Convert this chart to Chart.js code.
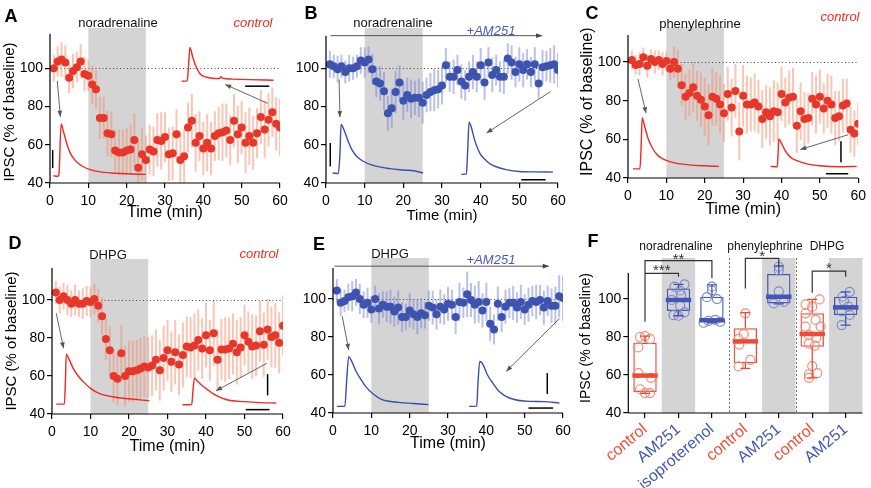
<!DOCTYPE html>
<html><head><meta charset="utf-8">
<script src="https://cdn.jsdelivr.net/npm/chart.js@4.4.1/dist/chart.umd.min.js"></script>
<style>
html,body{margin:0;padding:0;background:#fff;}
#wrap{position:relative;width:871px;height:488px;overflow:hidden;font-family:'Liberation Sans',Arial,sans-serif;background:#fff;}
canvas{position:absolute;}
.t{position:absolute;white-space:nowrap;transform:translate(-50%,-50%);line-height:1;color:#111;}
.L{font-weight:bold;font-size:18px;color:#000;}
.s{font-size:13px;}
.s12{font-size:12px;}
.red{color:#ef2a1c;font-style:italic;}
.blue{color:#4a58c0;font-style:italic;}
</style></head><body><div id="wrap">
<canvas id="cA" width="300" height="222" style="left:0px;top:0px"></canvas>
<canvas id="cB" width="290" height="225" style="left:290px;top:0px"></canvas>
<canvas id="cC" width="296" height="219" style="left:575px;top:0px"></canvas>
<canvas id="cD" width="300" height="226" style="left:0px;top:230px"></canvas>
<canvas id="cE" width="290" height="223" style="left:290px;top:230px"></canvas>
<canvas id="cF" width="296" height="258" style="left:575px;top:230px"></canvas>

<div class="t L" style="left:11px;top:16px">A</div>
<div class="t s" style="left:118px;top:22px">noradrenaline</div>
<div class="t s red" style="left:253px;top:22px">control</div>

<div class="t L" style="left:311px;top:13px">B</div>
<div class="t s" style="left:393px;top:22px">noradrenaline</div>
<div class="t s blue" style="left:491px;top:30px">+AM251</div>

<div class="t L" style="left:592px;top:13px">C</div>
<div class="t s" style="left:700px;top:23px">phenylephrine</div>
<div class="t s red" style="left:840px;top:16px">control</div>

<div class="t L" style="left:15px;top:243px">D</div>
<div class="t s" style="left:108px;top:254px">DHPG</div>
<div class="t s red" style="left:259px;top:253px">control</div>

<div class="t L" style="left:319px;top:244px">E</div>
<div class="t s" style="left:390px;top:253px">DHPG</div>
<div class="t s blue" style="left:491px;top:259px">+AM251</div>

<div class="t L" style="left:593px;top:241px">F</div>
<div class="t s12" style="left:676px;top:246px">noradrenaline</div>
<div class="t s12" style="left:765px;top:246px">phenylephrine</div>
<div class="t s12" style="left:827px;top:246px">DHPG</div>
</div>
<script>
// ---------------- DATA ----------------
const times = [1,2,3,4,5,6,7,8,9,10,11,12,13,14,15,16,17,18,19,20,21,22,23,24,25,26,27,28,29,30,
               31,32,33,34,35,36,37,38,39,40,41,42,43,44,45,46,47,48,49,50,51,52,53,54,55,56,57,58,59,60];
const yTickValues = [40, 60, 80, 100];
const xTickStep = 10;

// Panel A: noradrenaline, control
const aVals = [100,103.5,104.5,103,95,98.5,100.5,103.5,97,96, 91.5,89,74,74,66,65.5,57,56,56,57,
  57.5,62.5,48,55,52, 57.5,56.5,62.5,62,64, 55,55.5,65.5,52,54, 69,72.5,61,64.5,58,
  61,58,64.5,66,66.5, 67.5,62.5,72.5,65.5,69, 61,64.5,61,66,74.5, 68,73,77,71,69];
const aErr = [7,8,9,9,8,9,8,9,9,8, 10,10,11,11,12,12,11,12,12,12, 13,14,15,14,13, 13,13,14,15,13,
  14,14,13,15,14, 13,14,15,13,14, 15,14,13,14,15, 14,13,14,15,14, 16,15,14,13,14, 15,14,13,14,15];
// Panel B: noradrenaline, +AM251
const bVals = [102,101,99.5,101,98,100,100,101,104,103, 104.5,99.5,93,92,88,76.5,79,87.5,92.5,83,
  86,84,84.5,84.5,82, 86,87.5,88.5,89,91, 101.5,95.5,95.5,99,93, 91,95.5,98,95.5,101.5,
  92.5,103,96.5,99,95.5, 95.5,105,103,98,102, 99,102,98,102,92, 100.5,101,101.5,102,99];
const bErr = [7,6,7,6,6,7,6,6,7,8, 7,8,8,9,10,9,10,11,9,10, 9,10,9,10,11, 9,10,11,10,10,
  9,8,9,8,9, 8,8,9,8,9, 9,8,9,8,8, 9,8,9,8,9, 9,8,8,9,8, 9,8,9,10,9];
// Panel C: phenylephrine, control
const cVals = [101,98.5,99,102.5,98,101.5,100,101,99,100.5, 96.5,100,96.5,88,82,84,87,82.5,80.5,77,
  72.5,82,81,78,73.5,83.5,76.5,85,64,82.5, 78,78,79,77,70.5,74,72,74.5,74,83.5,
  79,81.5,82,67,74.5,70.5,71,81,78,82, 76,80,78,71,72,77.5,78.5,65,63,68];
const cErr = [5,5,6,5,6,5,6,5,6,5, 6,8,10,11,12,12,13,13,14,15, 16,15,14,15,15, 14,15,14,15,16,
  15,14,15,14,15, 14,15,16,15,14, 13,14,15,14,15, 14,13,14,15,14, 13,14,15,14,13, 14,13,12,12,11];
// Panel D: DHPG, control
const dVals = [104,100,102,100,98,100,98,98,99.5,99, 100.5,97,91.5,79.5,73.5,60,58.5,72,60,62.5,
  62.5,63,64,65,64.5, 65.5,68.5,63,69.5,73.5, 67.5,72.5,66,71,75.5, 75,76,79,74.5,81.5,
  73.5,82.5,68.5,74,74, 74.5,77,72.5,75,81.5, 78,75.5,76,83.5,76.5, 84.5,80.5,81.5,77.5,86.5];
const dErr = [6,7,7,8,7,8,7,8,8,8, 8,9,10,11,13,14,14,15,16,16, 16,16,16,16,16, 16,16,16,17,16,
  16,17,16,17,16, 16,17,16,16,17, 16,17,16,16,17, 16,16,17,16,16, 16,17,16,16,17, 16,16,17,16,16];
// Panel E: DHPG, +AM251
const eVals = [104.5,98,99,101,101.5,103.5,100,97,98,94.5, 100,95,97,96,96,93.5,95.5,90.5,90.5,94,
  92,90.5,92.5,91.5,96.5, 95.5,92,96,94.5,97.5, 97,90.5,98.5,98,102.5, 99.5,97,98.5,94,98.5,
  87,84,97.5,90.5,96, 98,98,95.5,98.5,94.5, 97,99,98.5,99.5,95.5, 99,96.5,96.5,101.5,100.5];
const eErr = [6,7,6,7,8,7,8,7,8,7, 7,8,7,8,9,8,9,8,7,9, 8,9,8,7,8, 9,8,9,8,9,
  8,9,10,8,12, 9,10,11,9,10, 9,8,9,8,9, 8,9,8,9,8, 9,8,9,8,9, 8,9,10,11,12];

// Example IPSC traces (time, value)
const aTrace1 = [[0.9,43.8],[2.0,43.5],[2.3,44],[2.9,70.8],[3.5,67],[4.3,61],[5.2,56],[6.1,53],[7.3,50.5],[8.7,48.5],[10.5,47],[13,45.8],[16,45.2],[20,44.8],[25,44.5]];
const aTrace2 = [[34.4,93.2],[35.8,93.4],[36.1,100],[36.5,110.8],[37.2,106],[38.3,99.8],[39.2,97],[40,95.8],[41.5,95],[43,94.6],[44.3,94.6],[44.6,95.6],[45,94.8],[47.5,94.3],[52,94],[58.3,93.7]];
const bTrace1 = [[1.7,45.2],[3.2,45],[3.6,55],[3.9,70.6],[4.5,68.5],[5.8,61.4],[6.8,57],[7.9,54],[9.5,51.5],[12.2,49.2],[16.5,47.5],[20,46.8],[23,46.3],[25.1,45.2]];
const bTrace2 = [[35,44.5],[36.3,44.8],[36.6,55],[37,71.8],[37.6,69],[38.5,62],[39.8,55.5],[41,52.5],[42.3,50.2],[44,48.5],[46.6,47],[50,46],[54,45.8],[58.7,45.7]];
const cTrace1 = [[1.3,44.7],[3.1,44.7],[3.4,55],[3.7,71],[4.3,67],[5.3,60],[6.5,55],[7.8,51.6],[9.5,49.5],[12.1,47.8],[16,46.8],[20,46.3],[23.7,46]];
const cTrace2 = [[37.1,46],[38.9,45.8],[39.1,52],[39.3,60.2],[40,58],[41,54],[42.3,50.8],[44,49],[46.6,47.3],[50,46.3],[55,45.8],[59.6,46]];
const dTrace1 = [[1.1,45.2],[3.2,45.2],[3.5,58],[3.7,71.5],[4.4,69],[5.5,64],[6.8,60],[8.1,57.1],[10,53.5],[12.4,50.7],[16.8,48.7],[20,48],[25.3,47]];
const dTrace2 = [[33.9,44.9],[36.3,45],[36.6,52],[37,58.9],[37.7,57.5],[39,55],[40.2,53.1],[42,50.5],[45.4,47.5],[50,46.5],[54,46],[58.2,45.8]];
const eTrace1 = [[1,43.5],[3.1,43.5],[3.5,55],[4.1,69.7],[4.7,68],[6,62],[7.2,58],[8.5,54],[10.5,50],[12.8,47],[17.2,45.6],[21,45],[24.9,44.4]];
const eTrace2 = [[35.5,43.5],[37.5,43.6],[37.8,55],[38.3,67.1],[39,66],[40.3,60],[41.7,55.7],[43.5,51],[46,47.9],[51.3,46.1],[55,46],[59.1,45.2]];

// Panel F: summary box plots
const fCats   = ['control','AM251','isoproterenol','control','AM251','control','AM251'];
const fGroup  = ['control','AM251','AM251','control','AM251','control','AM251'];
const fMin    = [50.3, 91.2, 87.5, 63.5, 97.5, 58.5, 86.3];
const fQ1     = [51.0, 93.7, 88.6, 66.2, 97.7, 74.9, 91.6];
const fMedian = [59.7, 99.5, 88.8, 77.7, 101.2, 81.6, 95.6];
const fQ3     = [77.0, 105.6, 101.2, 84.6, 113.2, 92.5, 101.2];
const fMax    = [80.5, 107.7, 107.4, 92.8, 117.5, 99.8, 103.8];
const fPtCat = [0,0,0,0,0,0,0,0,0, 1,1,1,1,1,1,1,1,1, 2,2,2,2,2,2,2,2, 3,3,3,3,3,3, 4,4,4,4,4,
                5,5,5,5,5,5,5,5,5,5,5,5,5,5,5, 6,6,6,6,6,6,6];
const fPtVal = [80.5,80,79,74.5,61,58.5,52.5,50.5,50.5, 107.7,106.5,104.5,102,99.5,96.5,93,91.5,91.2,
                106.5,104.5,101,100,89,88.5,88,87.5, 92.5,81.5,79,76,68,64.5, 117,115,104,98.5,97.7,
                99.8,97.2,96,92.5,89,85.5,85.5,81,79.5,76.5,75.5,64.7,61,60.4,58.5,
                103.8,101.2,99,96,93.5,91.6,86.3];
const fPtJit = [0,-0.15,0.15,-0.2,-0.2,0.18,-0.15,0,0.15, 0.18,-0.12,0.05,0.08,-0.2,0.05,0.18,-0.15,0,
                0,0,-0.15,0.15,0.1,-0.1,0.25,-0.25, 0,-0.05,-0.2,-0.18,0.15,-0.2, 0,0,0,0.15,-0.15,
                0.22,-0.2,0,-0.2,0.1,-0.2,0.25,-0.1,0.12,-0.1,0.08,0,0.15,-0.1,-0.1,
                0.12,-0.1,-0.05,0.08,-0.12,0.12,-0.12];

// ---------------- STYLE ----------------
const RED = '#e8372a', RED_ERR = 'rgba(243,140,105,0.5)', RED_TR = '#f0281e';
const BLUE = '#3d53b0', BLUE_ERR = 'rgba(120,130,215,0.5)', BLUE_TR = '#3a4db0';
const FONT = "'Liberation Sans', Arial, Helvetica, sans-serif";
Chart.defaults.font.family = FONT;
Chart.defaults.color = '#000';
Chart.defaults.animation = false;

const decorCfg = {};

function arrowTo(ctx, x1, y1, x2, y2, col) {
  ctx.strokeStyle = col; ctx.fillStyle = col; ctx.lineWidth = 0.9;
  ctx.beginPath(); ctx.moveTo(x1, y1); ctx.lineTo(x2, y2); ctx.stroke();
  const a = Math.atan2(y2 - y1, x2 - x1), L = 6, W = 2.4;
  ctx.beginPath(); ctx.moveTo(x2, y2);
  ctx.lineTo(x2 - L * Math.cos(a) + W * Math.sin(a), y2 - L * Math.sin(a) - W * Math.cos(a));
  ctx.lineTo(x2 - L * Math.cos(a) - W * Math.sin(a), y2 - L * Math.sin(a) + W * Math.cos(a));
  ctx.closePath(); ctx.fill();
}

const decor = {
  id: 'decor',
  beforeDatasetsDraw(chart) {
    const c = decorCfg[chart.canvas.id]; if (!c) return;
    const { ctx, chartArea: ca } = chart; const X = chart.scales.x, Y = chart.scales.y;
    ctx.save();
    ctx.fillStyle = '#d4d4d4';
    (c.shades || []).forEach(([a, b]) => {
      const x0 = X.getPixelForValue(a), x1 = X.getPixelForValue(b);
      ctx.fillRect(x0, ca.top, x1 - x0, ca.bottom - ca.top);
    });
    if (c.separators) {
      ctx.strokeStyle = '#777'; ctx.lineWidth = 1; ctx.setLineDash([2, 2]);
      c.separators.forEach(v => {
        const px = Math.round(X.getPixelForValue(v)) + 0.5;
        ctx.beginPath(); ctx.moveTo(px, ca.top); ctx.lineTo(px, ca.bottom); ctx.stroke();
      });
      ctx.setLineDash([]);
    }
    if (c.refLine != null) {
      ctx.strokeStyle = '#444'; ctx.lineWidth = 1; ctx.setLineDash([1, 2.5]);
      const py = Math.round(Y.getPixelForValue(c.refLine)) + 0.5;
      ctx.beginPath(); ctx.moveTo(ca.left, py); ctx.lineTo(ca.right, py); ctx.stroke();
      ctx.setLineDash([]);
    }
    ctx.beginPath(); ctx.rect(ca.left, ca.top, ca.right - ca.left, ca.bottom - ca.top); ctx.clip();
    chart.data.datasets.forEach(ds => {
      if (!ds.err) return;
      ctx.strokeStyle = ds.errColor; ctx.lineWidth = 2;
      ds.data.forEach((p, j) => {
        const px = X.getPixelForValue(p.x);
        ctx.beginPath();
        ctx.moveTo(px, Y.getPixelForValue(p.y - ds.err[j]));
        ctx.lineTo(px, Y.getPixelForValue(p.y + ds.err[j]));
        ctx.stroke();
      });
    });
    ctx.restore();
  },
  afterDatasetsDraw(chart) {
    const c = decorCfg[chart.canvas.id]; if (!c) return;
    const { ctx } = chart; const X = chart.scales.x, Y = chart.scales.y;
    const px = v => X.getPixelForValue(v), py = v => Y.getPixelForValue(v);
    ctx.save();
    // scale bars
    ctx.strokeStyle = '#000'; ctx.lineWidth = 1.5;
    (c.bars || []).forEach(([x1, y1, x2, y2]) => {
      ctx.beginPath(); ctx.moveTo(px(x1), py(y1)); ctx.lineTo(px(x2), py(y2)); ctx.stroke();
    });
    (c.arrows || []).forEach(([x1, y1, x2, y2]) => arrowTo(ctx, px(x1), py(y1), px(x2), py(y2), '#555'));
    (c.topArrow || []).forEach(([x1, y1, x2, y2]) => arrowTo(ctx, px(x1), py(y1), px(x2), py(y2), '#444'));
    // box plot medians & whiskers
    if (c.box) {
      const meta = chart.getDatasetMeta(c.box.dataset);
      c.box.median.forEach((m, i) => {
        const el = meta.data[i]; const half = el.width / 2; const col = c.box.colors[i];
        const cx = el.x;
        ctx.strokeStyle = col; ctx.lineWidth = 1.3;
        ctx.beginPath();
        ctx.moveTo(cx, py(c.box.q3[i])); ctx.lineTo(cx, py(c.box.max[i]));
        ctx.moveTo(cx - 5, py(c.box.max[i])); ctx.lineTo(cx + 5, py(c.box.max[i]));
        ctx.moveTo(cx, py(c.box.q1[i])); ctx.lineTo(cx, py(c.box.min[i]));
        ctx.moveTo(cx - 5, py(c.box.min[i])); ctx.lineTo(cx + 5, py(c.box.min[i]));
        ctx.stroke();
        ctx.lineWidth = 4.5;
        ctx.beginPath(); ctx.moveTo(cx - half - 1, py(m)); ctx.lineTo(cx + half + 1, py(m)); ctx.stroke();
      });
    }
    // significance brackets
    (c.brackets || []).forEach(b => {
      ctx.strokeStyle = '#333'; ctx.lineWidth = 1.2;
      ctx.beginPath();
      ctx.moveTo(px(b[0]), py(b[1])); ctx.lineTo(px(b[0]), py(b[2]));
      ctx.lineTo(px(b[3]), py(b[2])); ctx.lineTo(px(b[3]), py(b[4]));
      ctx.stroke();
      ctx.fillStyle = '#333'; ctx.font = '15px ' + FONT; ctx.textAlign = 'center'; ctx.textBaseline = 'middle';
      ctx.fillText(b[5], px(b[6]), py(b[7]));
    });
    ctx.restore();
  },
  afterDraw(chart) {
    const c = decorCfg[chart.canvas.id]; if (!c) return;
    const { ctx, chartArea: ca } = chart; const Y = chart.scales.y;
    ctx.save();
    ctx.strokeStyle = '#000'; ctx.lineWidth = 1.2;
    ctx.beginPath();
    ctx.moveTo(ca.left, ca.bottom); ctx.lineTo(ca.right, ca.bottom);
    ctx.moveTo(ca.left, ca.bottom); ctx.lineTo(ca.left, Y.getPixelForValue(c.axisTop));
    ctx.stroke();
    if (c.yTitle) {
      ctx.translate(c.yTitle.x, c.yTitle.y); ctx.rotate(-Math.PI / 2);
      ctx.fillStyle = '#000'; ctx.font = c.yTitle.size + 'px ' + FONT;
      ctx.textAlign = 'center'; ctx.textBaseline = 'middle';
      ctx.fillText('IPSC (% of baseline)', 0, 0);
    }
    ctx.restore();
  }
};

function yScale(ymax, yW) {
  return {
    type: 'linear', min: 40, max: ymax,
    afterFit: s => { s.width = yW; },
    afterBuildTicks: s => { s.ticks = yTickValues.map(v => ({ value: v })); },
    ticks: { font: { size: 14 }, padding: 2, color: '#000' },
    grid: { drawOnChartArea: false, color: '#000', tickLength: 5, lineWidth: 1.2 },
    border: { display: false }
  };
}

function timePanel(id, o) {
  const ds = [{
    type: 'scatter', data: times.map((t, i) => ({ x: t, y: o.vals[i] })),
    err: o.err, errColor: o.errColor,
    pointBackgroundColor: o.color, pointBorderWidth: 0, pointRadius: 4, order: 0
  }];
  o.traces.forEach(tr => ds.push({
    type: 'line', data: tr.map(p => ({ x: p[0], y: p[1] })),
    borderColor: o.traceColor, borderWidth: 1.4, pointRadius: 0,
    cubicInterpolationMode: 'monotone', fill: false, order: 1
  }));
  decorCfg[id] = o.decor;
  new Chart(document.getElementById(id), {
    type: 'scatter',
    data: { datasets: ds },
    options: {
      responsive: false, animation: false, events: [],
      layout: { padding: { left: 0, top: o.padT, right: o.padR, bottom: 0 } },
      plugins: { legend: { display: false }, tooltip: { enabled: false } },
      scales: {
        x: {
          type: 'linear', min: 0, max: 60,
          afterFit: s => { s.height = o.xH; },
          ticks: { stepSize: xTickStep, font: { size: 14 }, padding: 5, color: '#000' },
          grid: { drawOnChartArea: false, color: '#000', tickLength: 5, lineWidth: 1.2 },
          border: { display: false },
          title: { display: true, text: 'Time (min)', font: { size: o.xTitleSize }, padding: 0, color: '#000' }
        },
        y: yScale(o.ymax, o.yW)
      }
    },
    plugins: [decor]
  });
}

timePanel('cA', {
  vals: aVals, err: aErr, color: RED, errColor: RED_ERR, traceColor: RED_TR,
  traces: [aTrace1, aTrace2], padT: 28, padR: 20, xH: 39, yW: 50, ymax: 121, xTitleSize: 16,
  decor: { shades: [[10, 25]], refLine: 100, axisTop: 118,
    bars: [[0.7, 47.8, 0.7, 57.2], [50.9, 90.6, 57.2, 90.6]],
    arrows: [[1.9, 93.4, 2.7, 74.6], [56.8, 81.6, 45.7, 91.5]],
    yTitle: { x: 10, y: 112, size: 15 } }
});
timePanel('cB', {
  vals: bVals, err: bErr, color: BLUE, errColor: BLUE_ERR, traceColor: BLUE_TR,
  traces: [bTrace1, bTrace2], padT: 28, padR: 22, xH: 42, yW: 36, ymax: 121, xTitleSize: 15,
  decor: { shades: [[10, 25]], refLine: 100, axisTop: 117,
    bars: [[1.1, 48.7, 1.1, 60.9], [50.5, 41.7, 56.8, 41.7]],
    arrows: [[3.4, 94.1, 3.6, 74.4], [58.1, 87.8, 41.5, 66.1]],
    topArrow: [[1.2, 117, 55.9, 117]] }
});
timePanel('cC', {
  vals: cVals, err: cErr, color: RED, errColor: RED_ERR, traceColor: RED_TR,
  traces: [cTrace1, cTrace2], padT: 27, padR: 11, xH: 41, yW: 53, ymax: 118.1, xTitleSize: 16,
  decor: { shades: [[10, 25]], refLine: 100, axisTop: 114,
    bars: [[55.5, 48.1, 55.5, 59], [51.6, 42.2, 57.4, 42.2]],
    arrows: [[2.6, 91.2, 4.7, 73.6], [57.4, 62.4, 44.9, 54.7]],
    yTitle: { x: 12.7, y: 101.7, size: 16 } }
});
timePanel('cD', {
  vals: dVals, err: dErr, color: RED, errColor: RED_ERR, traceColor: RED_TR,
  traces: [dTrace1, dTrace2], padT: 29, padR: 17, xH: 42, yW: 52, ymax: 121.6, xTitleSize: 16,
  decor: { shades: [[10, 25]], refLine: 100, axisTop: 116.8,
    bars: [[56, 49.8, 56, 61], [50.3, 42.3, 56.5, 42.3]],
    arrows: [[1.1, 93, 3, 74.6], [55.8, 66.7, 42.6, 52.2]],
    yTitle: { x: 11.7, y: 111, size: 15 } }
});
timePanel('cE', {
  vals: eVals, err: eErr, color: BLUE, errColor: BLUE_ERR, traceColor: BLUE_TR,
  traces: [eTrace1, eTrace2], padT: 28, padR: 17, xH: 40, yW: 43, ymax: 121.6, xTitleSize: 16,
  decor: { shades: [[10, 25]], refLine: 100, axisTop: 116.3,
    bars: [[55.9, 50, 55.9, 61], [51, 42.6, 57.4, 42.6]],
    arrows: [[2.4, 91, 4.1, 73.2], [59.1, 89.8, 45.2, 61.9]],
    topArrow: [[0.4, 117.3, 56.3, 117.3]] }
});

// Panel F
const groupColor = g => g === 'control' ? '#f04a36' : '#4356b5';
const groupPtColor = g => g === 'control' ? '#f38c78' : '#7f88cf';
decorCfg['cF'] = {
  shades: fGroup.map((g, i) => g === 'AM251' && fCats[i] === 'AM251' ? [i - 0.5, i + 0.5] : null).filter(Boolean),
  separators: [2.5, 4.5], axisTop: 113.7,
  box: { dataset: 0, median: fMedian, q1: fQ1, q3: fQ3, min: fMin, max: fMax, colors: fGroup.map(groupColor) },
  brackets: [
    [0, 88, 120.2, 2, 110.9, '**', 1, 120.6],
    [0, 113.5, 113.5, 1, 111.7, '***', 0.5, 114.9],
    [3, 105.6, 121.4, 4, 117, '*', 3.5, 122.2],
    [5, 103.3, 114.7, 6, 111.7, '*', 5.5, 115.9]
  ],
  yTitle: { x: 11, y: 108, size: 14 }
};
new Chart(document.getElementById('cF'), {
  type: 'bar',
  data: {
    datasets: [
      {
        type: 'bar', data: fCats.map((c, i) => ({ x: i, y: [fQ1[i], fQ3[i]] })),
        backgroundColor: 'rgba(255,255,255,0)', borderColor: fGroup.map(groupColor),
        borderWidth: 1.3, borderSkipped: false, categoryPercentage: 0.7, barPercentage: 1, order: 1
      },
      {
        type: 'scatter', data: fPtVal.map((v, i) => ({ x: fPtCat[i] + fPtJit[i], y: v })),
        pointBackgroundColor: 'rgba(255,255,255,0)',
        pointBorderColor: fPtCat.map(k => groupPtColor(fGroup[k])),
        pointBorderWidth: 1.2, pointRadius: 4.5, order: 0
      }
    ]
  },
  options: {
    responsive: false, animation: false, events: [],
    layout: { padding: { left: 0, top: 28, right: 8.6, bottom: 0 } },
    plugins: { legend: { display: false }, tooltip: { enabled: false } },
    scales: {
      x: {
        type: 'linear', min: -0.5, max: 6.5, offset: false,
        afterFit: s => { s.height = 75; },
        afterBuildTicks: s => { s.ticks = fCats.map((c, i) => ({ value: i })); },
        ticks: {
          autoSkip: false, minRotation: 40, maxRotation: 40, padding: 2, font: { size: 16 },
          callback: v => fCats[v],
          color: ctx => groupColor(fGroup[ctx.index])
        },
        grid: { drawOnChartArea: false, offset: false, color: '#000', tickLength: 5, lineWidth: 1.2 },
        border: { display: false }
      },
      y: yScale(121.6, 53.3)
    }
  },
  plugins: [decor]
});
</script>
</body></html>
